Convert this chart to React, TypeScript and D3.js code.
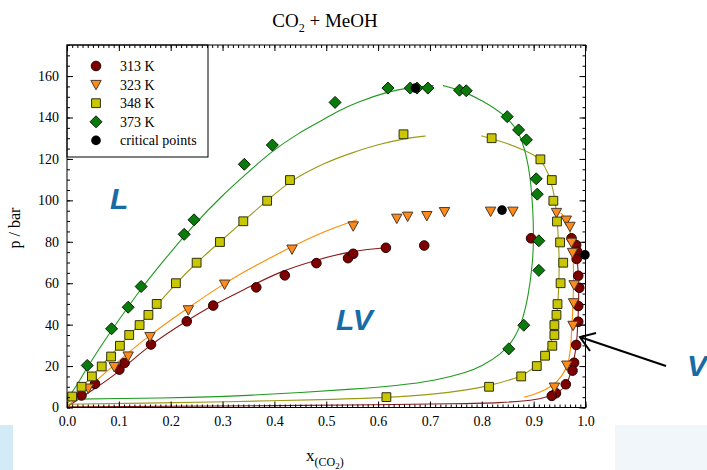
import * as d3 from 'd3';
import React, { useEffect, useRef } from 'react';

const WIDTH = 707;
const HEIGHT = 470;
const LEFT = 67;
const RIGHT = 585.5;
const BOTTOM = 407.5;
const TOP = 45;

const X_TICKS = [0, 0.1, 0.2, 0.3, 0.4, 0.5, 0.6, 0.7, 0.8, 0.9, 1.0];
const Y_TICKS = [0, 20, 40, 60, 80, 100, 120, 140, 160];
const LEGEND_LABELS = ['313 K', '323 K', '348 K', '373 K', 'critical points'];

type Pt = [number, number];

// measured points, [x CO2, p / bar]
const PTS_313: Pt[] = [
  [0.028, 5.8], [0.054, 11.4], [0.101, 18.3], [0.111, 21.5], [0.162, 30.4], [0.231, 41.6],
  [0.282, 49.2], [0.365, 58.0], [0.42, 63.8], [0.481, 69.7], [0.542, 72.1], [0.552, 74.2],
  [0.615, 77.1], [0.689, 78.2],
  [0.895, 81.7], [0.973, 81.7], [0.982, 78.4], [0.984, 75.2], [0.983, 71.7], [0.986, 63.6],
  [0.988, 57.8], [0.986, 49.0], [0.986, 41.4], [0.982, 30.2], [0.978, 21.6], [0.975, 17.8],
  [0.962, 11.2], [0.943, 6.9], [0.935, 5.6],
];
const PTS_323: Pt[] = [
  [0.041, 9.3], [0.091, 19.7], [0.118, 24.8], [0.16, 34.2], [0.234, 47.1], [0.304, 59.5],
  [0.434, 76.4], [0.552, 87.6], [0.636, 91.3], [0.657, 92.3], [0.694, 92.6], [0.728, 94.5],
  [0.817, 94.7], [0.86, 94.7],
  [0.944, 94.1], [0.963, 90.4], [0.97, 87.4], [0.973, 79.7], [0.975, 74.8], [0.978, 59.2],
  [0.977, 50.5], [0.976, 39.6], [0.964, 20.4], [0.94, 9.8],
];
const PTS_348: Pt[] = [
  [0.01, 5.3], [0.028, 10], [0.048, 15], [0.067, 19.8], [0.085, 24.6], [0.102, 29.8],
  [0.12, 35.0], [0.14, 39.8], [0.157, 44.7], [0.173, 50], [0.21, 60], [0.25, 69.9],
  [0.295, 79.9], [0.34, 89.9], [0.386, 99.8], [0.43, 109.8], [0.649, 131.9],
  [0.819, 130], [0.913, 119.8], [0.935, 109.8], [0.938, 99.8], [0.945, 89.8], [0.951, 79.7],
  [0.957, 69.9], [0.952, 60], [0.946, 49.9], [0.944, 44.7], [0.94, 39.8], [0.94, 35.0],
  [0.936, 29.8], [0.922, 25], [0.906, 20], [0.876, 15], [0.814, 10], [0.616, 5],
];
const PTS_373: Pt[] = [
  [0.039, 20.3], [0.086, 38], [0.118, 48.4], [0.143, 58.4], [0.226, 83.6], [0.245, 90.6],
  [0.342, 117.4], [0.396, 126.7], [0.517, 147.3], [0.619, 154.2], [0.662, 154.2],
  [0.675, 154.2], [0.696, 154.2], [0.757, 153.2], [0.77, 152.9], [0.849, 140.4],
  [0.871, 134], [0.886, 129.2], [0.905, 110.4], [0.907, 103], [0.91, 80.5], [0.91, 66.2],
  [0.881, 39.7], [0.852, 28.3],
];
const CRITICAL: Pt[] = [[0.672, 154.2], [0.839, 95.3], [0.999, 73.7]];

// model curves
const LINE_313_L: Pt[] = [
  [0, 0.35], [0.05, 8.5], [0.1, 17], [0.16, 30.4], [0.231, 41.9], [0.282, 49.6], [0.35, 58],
  [0.411, 65.7], [0.481, 71.3], [0.552, 75.8], [0.615, 77.1],
];
const LINE_313_V: Pt[] = [
  [0, 0.35], [0.2, 0.6], [0.4, 0.9], [0.6, 1.3], [0.75, 1.8], [0.836, 2.2], [0.9, 3.5],
  [0.926, 5], [0.95, 7.5], [0.965, 11], [0.974, 19], [0.981, 27], [0.984, 34], [0.987, 50],
  [0.987, 60], [0.985, 70], [0.981, 77], [0.975, 82.5],
];
const LINE_323_L: Pt[] = [
  [0, 0.55], [0.05, 11.5], [0.091, 20.7], [0.16, 35.2], [0.233, 48], [0.304, 60.1],
  [0.366, 68.9], [0.434, 77.7], [0.495, 85], [0.559, 90.6],
];
const LINE_323_V: Pt[] = [
  [0.882, 5], [0.91, 7], [0.936, 10.3], [0.955, 15], [0.968, 21.5], [0.972, 30], [0.974, 40.8],
  [0.976, 50], [0.977, 58.5], [0.977, 68], [0.975, 78], [0.97, 86], [0.962, 91.5], [0.952, 94],
];
const LINE_348_L: Pt[] = [
  [0, 1.6], [0.01, 5], [0.048, 15], [0.102, 30], [0.157, 44.8], [0.21, 60], [0.25, 70],
  [0.295, 80], [0.34, 90], [0.386, 99.9], [0.43, 109.5], [0.5, 118.5], [0.55, 123],
  [0.6, 127], [0.65, 129.8], [0.692, 131.1],
];
const LINE_348_V: Pt[] = [
  [0.799, 131.2], [0.819, 129.8], [0.85, 127.5], [0.881, 124.3], [0.9, 122], [0.913, 119.9],
  [0.929, 113.1], [0.938, 105], [0.943, 97], [0.948, 82.5], [0.95, 66.5], [0.947, 50.4],
  [0.943, 39.2], [0.932, 29.5], [0.913, 21.5], [0.881, 15.1], [0.814, 10.3], [0.739, 7.1],
  [0.643, 5], [0.5, 3.8], [0.3, 2.7], [0.15, 2.1], [0, 1.6],
];
const LINE_373_L: Pt[] = [
  [0, 4], [0.02, 11], [0.039, 19.5], [0.086, 37.5], [0.118, 48.5], [0.143, 57.5], [0.19, 72],
  [0.245, 88.5], [0.3, 102.5], [0.342, 112], [0.396, 124], [0.45, 133], [0.488, 138],
  [0.517, 142.5], [0.56, 147.5], [0.619, 152.5], [0.66, 154.5], [0.707, 155.4],
];
const LINE_373_V: Pt[] = [
  [0.725, 155.4], [0.757, 153.3], [0.8, 148.5], [0.849, 140.4], [0.872, 133], [0.886, 122],
  [0.894, 110.7], [0.899, 95], [0.9, 80], [0.898, 70], [0.891, 55.5], [0.878, 41], [0.86, 32],
  [0.836, 25.5], [0.8, 20], [0.772, 16.9], [0.707, 12.8], [0.643, 10.7], [0.55, 8.8],
  [0.45, 7.2], [0.35, 5.8], [0.24, 4.8], [0.1, 4.3], [0, 4],
];

const SERIES = [
  { pts: PTS_313, lines: [LINE_313_L, LINE_313_V], shape: 'circle', fill: '#7d0000', stroke: '#2a0000', line: '#8b1a1a' },
  { pts: PTS_323, lines: [LINE_323_L, LINE_323_V], shape: 'triangle', fill: '#ff8a1c', stroke: '#4a3a2a', line: '#ff8c00' },
  { pts: PTS_348, lines: [LINE_348_L, LINE_348_V], shape: 'square', fill: '#c9c800', stroke: '#2e2e10', line: '#9a9a14' },
  { pts: PTS_373, lines: [LINE_373_L, LINE_373_V], shape: 'diamond', fill: '#0a7a0a', stroke: '#062006', line: '#1f9a1f' },
];

const shapePath = (shape: string): string => {
  switch (shape) {
    case 'triangle':
      return 'M-5.2,-4.2L5.2,-4.2L0,5.2Z';
    case 'square':
      return 'M-4.4,-4.4H4.4V4.4H-4.4Z';
    case 'diamond':
      return 'M0,-6L6,0L0,6L-6,0Z';
    default:
      return d3.symbol(d3.symbolCircle, 72)() || '';
  }
};

const App = (): JSX.Element => {
  const ref = useRef<SVGSVGElement>(null);

  useEffect(() => {
    if (ref.current === null) return;
    ref.current.replaceChildren();

    const x = d3.scaleLinear().domain([0, 1]).range([LEFT, RIGHT]);
    const y = d3.scaleLinear().domain([0, 175]).range([BOTTOM, TOP]);

    const svg = d3
      .select(ref.current)
      .attr('width', WIDTH)
      .attr('height', HEIGHT)
      .style('font-family', "'Liberation Serif', 'Times New Roman', serif");

    svg.append('rect').attr('width', WIDTH).attr('height', HEIGHT).attr('fill', '#fff');

    // faint slide background patches at the bottom corners
    svg.append('rect').attr('x', 0).attr('y', 425).attr('width', 13).attr('height', 45).attr('fill', '#d3ebf7');
    svg.append('rect').attr('x', 615).attr('y', 425).attr('width', 92).attr('height', 45).attr('fill', '#f1f6fb');

    // Title
    const title = svg
      .append('text')
      .attr('x', 325)
      .attr('y', 27)
      .attr('text-anchor', 'middle')
      .attr('font-size', 19);
    title.append('tspan').text('CO');
    title.append('tspan').attr('font-size', 12).attr('dy', 5).text('2');
    title.append('tspan').attr('dy', -5).text(' + MeOH');

    const line = d3
      .line<Pt>()
      .x((d) => x(d[0]))
      .y((d) => y(d[1]))
      .curve(d3.curveBasis);

    // model curves
    SERIES.forEach((s) => {
      s.lines.forEach((l) => {
        svg
          .append('path')
          .attr('d', line(l))
          .attr('fill', 'none')
          .attr('stroke', s.line)
          .attr('stroke-width', 1.1);
      });
    });

    // data points
    SERIES.forEach((s) => {
      svg
        .append('g')
        .selectAll()
        .data(s.pts)
        .join('path')
        .attr('d', shapePath(s.shape))
        .attr('transform', (d) => `translate(${x(d[0])},${y(d[1])})`)
        .attr('fill', s.fill)
        .attr('stroke', s.stroke)
        .attr('stroke-width', 1);
    });

    svg
      .append('g')
      .selectAll()
      .data(CRITICAL)
      .join('circle')
      .attr('cx', (d) => x(d[0]))
      .attr('cy', (d) => y(d[1]))
      .attr('r', 4.8)
      .attr('fill', '#000');

    // Legend
    const legend = svg.append('g');
    legend
      .append('rect')
      .attr('x', LEFT)
      .attr('y', TOP)
      .attr('width', 141)
      .attr('height', 112)
      .attr('fill', '#fff')
      .attr('stroke', '#000');
    LEGEND_LABELS.forEach((label, i) => {
      const cy = 66 + i * 18.6;
      const s = SERIES[i];
      if (s) {
        legend
          .append('path')
          .attr('d', shapePath(s.shape))
          .attr('transform', `translate(96,${cy})`)
          .attr('fill', s.fill)
          .attr('stroke', s.stroke);
      } else {
        legend.append('circle').attr('cx', 96).attr('cy', cy).attr('r', 4.8).attr('fill', '#000');
      }
      legend
        .append('text')
        .attr('x', 120)
        .attr('y', cy + 5)
        .attr('font-size', 14)
        .text(label);
    });

    // Axes with inward ticks on all four sides
    const font = (g: d3.Selection<SVGGElement, unknown, null, undefined>) => {
      g.select('.domain').remove();
      g.selectAll('text').attr('font-size', 14).attr('font-family', "'Liberation Serif', serif");
    };
    const xMinor = x.ticks(100);
    const yMinor = y.ticks(35);

    svg
      .append('g')
      .attr('transform', `translate(0,${BOTTOM})`)
      .call(d3.axisBottom(x).tickValues(xMinor).tickSize(-3).tickFormat(() => ''))
      .call(font);
    svg
      .append('g')
      .attr('transform', `translate(0,${BOTTOM})`)
      .call(d3.axisBottom(x).tickValues(X_TICKS).tickSize(-6).tickPadding(9).tickFormat(d3.format('.1f')))
      .call(font);
    svg
      .append('g')
      .attr('transform', `translate(0,${TOP})`)
      .call(d3.axisTop(x).tickValues(xMinor).tickSize(-3).tickFormat(() => ''))
      .call(font);
    svg
      .append('g')
      .attr('transform', `translate(0,${TOP})`)
      .call(d3.axisTop(x).tickValues(X_TICKS).tickSize(-6).tickFormat(() => ''))
      .call(font);
    svg
      .append('g')
      .attr('transform', `translate(${LEFT},0)`)
      .call(d3.axisLeft(y).tickValues(yMinor).tickSize(-3).tickFormat(() => ''))
      .call(font);
    svg
      .append('g')
      .attr('transform', `translate(${LEFT},0)`)
      .call(d3.axisLeft(y).tickValues(Y_TICKS).tickSize(-6).tickPadding(8).tickFormat(d3.format('d')))
      .call(font);
    svg
      .append('g')
      .attr('transform', `translate(${RIGHT},0)`)
      .call(d3.axisRight(y).tickValues(yMinor).tickSize(-3).tickFormat(() => ''))
      .call(font);
    svg
      .append('g')
      .attr('transform', `translate(${RIGHT},0)`)
      .call(d3.axisRight(y).tickValues(Y_TICKS).tickSize(-6).tickFormat(() => ''))
      .call(font);

    svg
      .append('rect')
      .attr('x', LEFT)
      .attr('y', TOP)
      .attr('width', RIGHT - LEFT)
      .attr('height', BOTTOM - TOP)
      .attr('fill', 'none')
      .attr('stroke', '#000');

    // Axis titles
    svg
      .append('text')
      .attr('transform', 'translate(20,228) rotate(-90)')
      .attr('text-anchor', 'middle')
      .attr('font-size', 16)
      .text('p / bar');
    const xt = svg.append('text').attr('x', 306).attr('y', 461).attr('font-size', 17);
    xt.append('tspan').text('x');
    xt.append('tspan').attr('font-size', 12).attr('dy', 5).text('(CO');
    xt.append('tspan').attr('font-size', 9).attr('dy', 3).text('2');
    xt.append('tspan').attr('font-size', 12).attr('dy', -3).text(')');

    // Phase region labels
    const region = (tx: number, ty: number, t: string) =>
      svg
        .append('text')
        .attr('x', tx)
        .attr('y', ty)
        .attr('font-family', "'Liberation Sans', Arial, sans-serif")
        .attr('font-weight', 'bold')
        .attr('font-style', 'italic')
        .attr('font-size', 30)
        .attr('fill', '#176ba6')
        .text(t);
    region(110, 209, 'L');
    region(336, 330, 'LV');
    region(687, 376, 'V');

    // Arrow pointing to the vapour branch
    svg
      .append('path')
      .attr('d', 'M666,366L580,337M596,333L580,337L590,351')
      .attr('fill', 'none')
      .attr('stroke', '#000')
      .attr('stroke-width', 2);
  }, []);

  return <svg ref={ref} style={{ position: 'absolute', left: 0, top: 0 }} />;
};

export default App;
